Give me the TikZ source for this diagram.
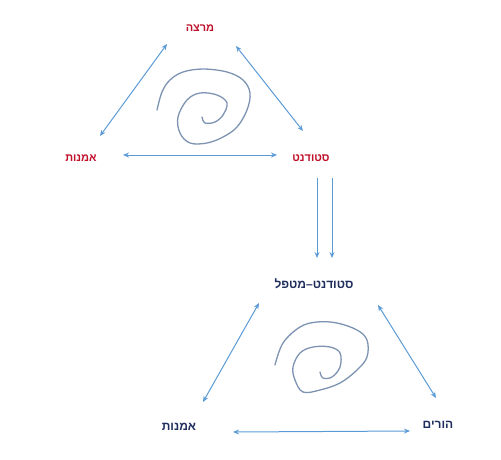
\documentclass[tikz,border=0pt]{standalone}
\usepackage{fontspec}
\setmainfont{Liberation Sans}
\newfontfamily\heb[Script=Hebrew]{Liberation Sans}
\TeXXeTstate=1
\usetikzlibrary{arrows.meta}
\definecolor{arrowblue}{HTML}{5B9BD5}
\definecolor{spiralgray}{HTML}{7D93B2}
\definecolor{labelred}{HTML}{C0102A}
\definecolor{labelnavy}{HTML}{1F2E5C}
\begin{document}
\begin{tikzpicture}[x=1pt,y=-1pt,
  rlabel/.style={font=\heb\bfseries\fontsize{11}{13}\selectfont, text=labelred, inner sep=1pt},
  nlabel/.style={font=\heb\bfseries\fontsize{12}{14}\selectfont, text=labelnavy, inner sep=1pt},
  link/.style={draw=arrowblue, line width=1pt, {Stealth[length=6pt,width=5pt]}-{Stealth[length=6pt,width=5pt]}},
  flow/.style={draw=arrowblue, line width=1pt, -{Stealth[length=6pt,width=5pt]}},
  spiral/.style={draw=spiralgray, line width=1.3pt, line cap=round, line join=round}]
\useasboundingbox (0,0) rectangle (501,459);
% top triangle labels
\node[rlabel] (lec) at (200,28) {\beginR מרצה\endR};
\node[rlabel] (artA) at (81,158) {\beginR אמנות\endR};
\node[rlabel] (stu) at (311,158) {\beginR סטודנט\endR};
% bottom triangle labels
\node[nlabel] (stth) at (314,284) {\beginR סטודנט–מטפל\endR};
\node[nlabel] (artB) at (179,427) {\beginR אמנות\endR};
\node[nlabel] (par) at (438,425) {\beginR הורים\endR};
% arrow ends
\coordinate (tl1) at (167,44); \coordinate (tl2) at (100,136);
\coordinate (tr1) at (236,46); \coordinate (tr2) at (303,131);
\coordinate (th1) at (123,155); \coordinate (th2) at (277,155);
\coordinate (d1a) at (317,178); \coordinate (d1b) at (317,258);
\coordinate (d2a) at (332,178); \coordinate (d2b) at (332,258);
\coordinate (bl1) at (259,303); \coordinate (bl2) at (203,402);
\coordinate (br1) at (378,305); \coordinate (br2) at (436,398);
\coordinate (bh1) at (233,432); \coordinate (bh2) at (410,431);
\draw[link] (tl1) -- (tl2);
\draw[link] (tr1) -- (tr2);
\draw[link] (th1) -- (th2);
\draw[flow] (d1a) -- (d1b);
\draw[flow] (d2a) -- (d2b);
\draw[link] (bl1) -- (bl2);
\draw[link] (br1) -- (br2);
\draw[link] (bh1) -- (bh2);
% spirals
\draw[spiral] plot[smooth, tension=0.6] coordinates {(157,110) (162,92) (170,80) (183,72) (203,69) (227,72) (243,80) (250,93) (247,110) (237,127) (223,137) (207,143) (190,143) (180,133) (178,117) (187,100) (200,93) (217,95) (227,103) (223,115) (215,122) (205,123) (202,117)};
\draw[spiral] plot[smooth, tension=0.6] coordinates {(275,365) (283,343) (300,327) (317,322) (337,323) (357,330) (367,340) (367,357) (357,370) (340,383) (320,390) (303,392) (295,380) (293,367) (300,353) (313,347) (330,347) (340,353) (340,367) (332,377) (323,378) (320,372)};
\end{tikzpicture}
\end{document}
